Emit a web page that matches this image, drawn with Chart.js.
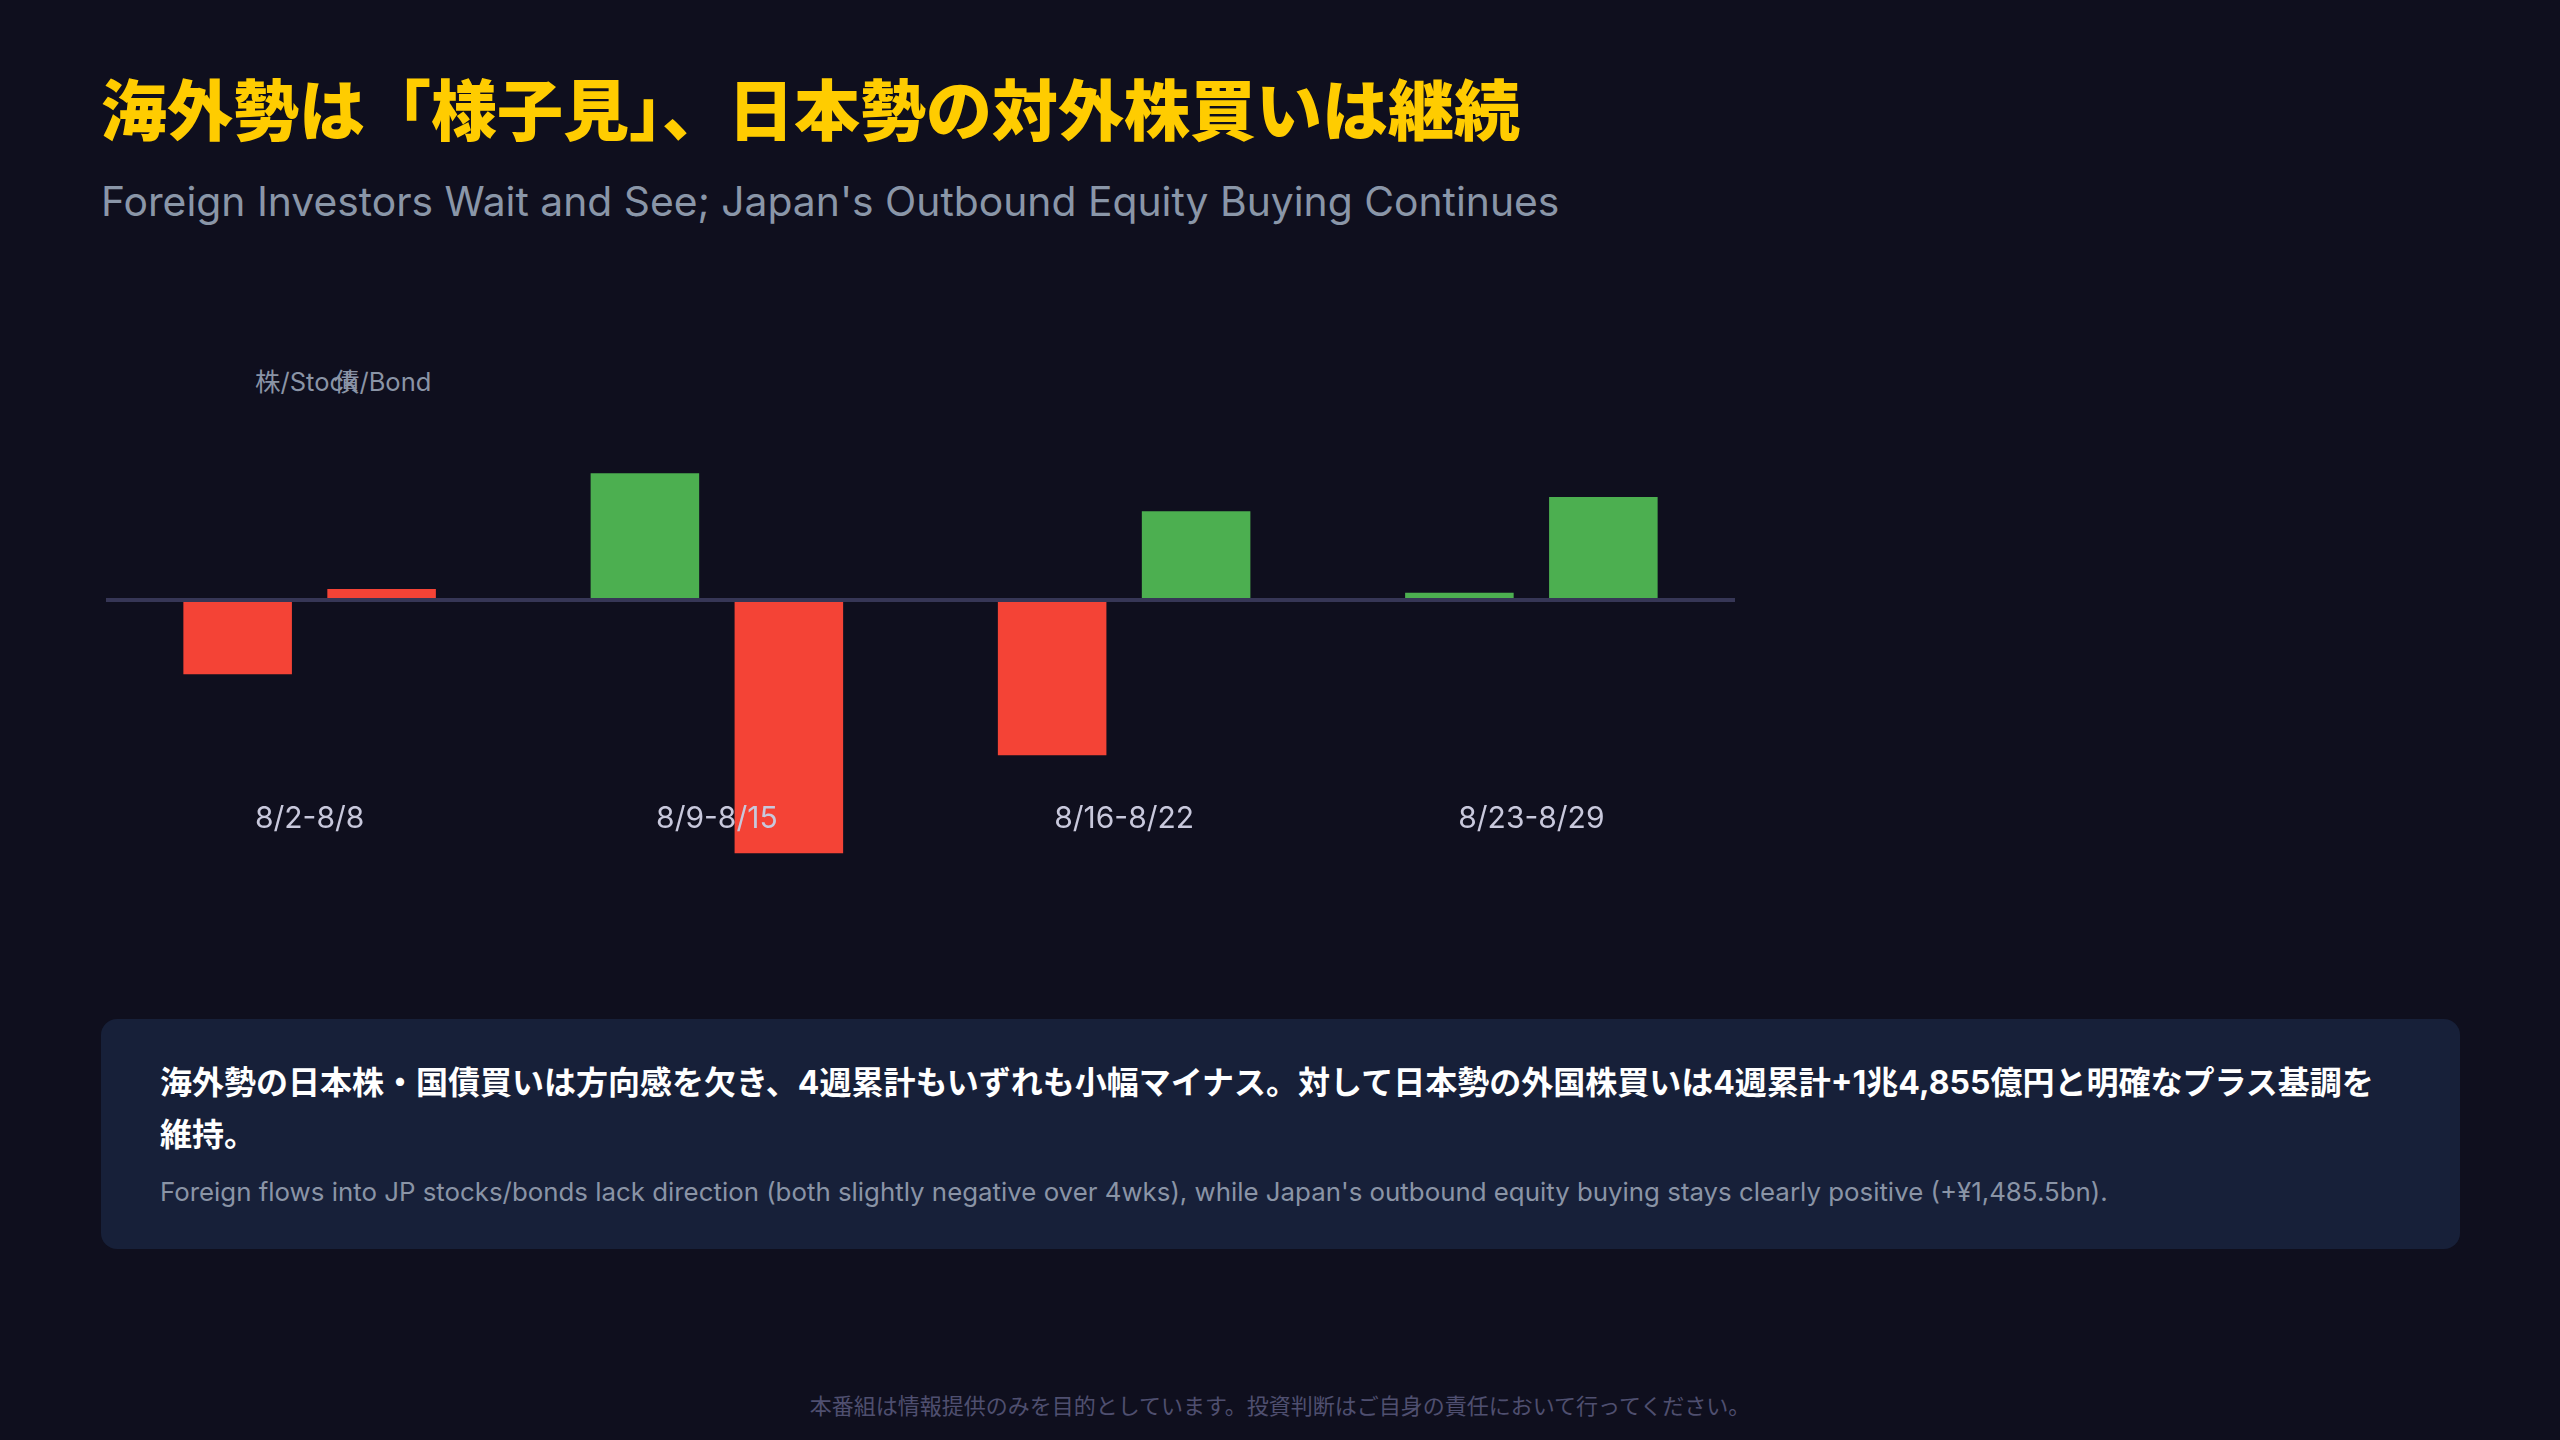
<!doctype html>
<html lang="ja">
  <head>
    <meta charset="utf-8">
    <title>海外勢は「様子見」、日本勢の対外株買いは継続</title>
    <style>
      * {
        margin: 0;
        padding: 0;
      }
      body {
        width: 2560px;
        height: 1440px;
        background: #0f0f1e;
        position: relative;
        overflow: hidden;
        font-family: Inter, "Noto Sans CJK JP", sans-serif;
      }
      .title {
        position: absolute;
        left: 101px;
        top: 67px;
        font-size: 66px;
        line-height: 1.2;
        font-weight: 900;
        color: #ffcc00;
        font-family: "Noto Sans CJK JP", sans-serif;
      }
      .subtitle {
        position: absolute;
        left: 101px;
        top: 177px;
        font-size: 40.8px;
        line-height: 1.2;
        color: #8a96a8;
      }
      .legendItem {
        position: absolute;
        top: 368px;
        font-size: 25.5px;
        line-height: 28px;
        color: #8a94a6;
      }
      .chartBox {
        position: absolute;
        left: 106px;
        top: 448px;
        width: 1629px;
        height: 450px;
      }
      .note {
        position: absolute;
        left: 101px;
        top: 1019px;
        width: 2359px;
        height: 230px;
        box-sizing: border-box;
        padding: 38px 59px 0 59px;
        background: #172039;
        border-radius: 16px;
      }
      .note .jp {
        font-size: 32px;
        line-height: 52px;
        font-weight: 700;
        color: #ffffff;
      }
      .note .en {
        margin-top: 13px;
        font-size: 25.85px;
        line-height: 35px;
        color: #8a94a6;
      }
      .footer {
        position: absolute;
        left: 0;
        width: 2560px;
        top: 1392px;
        text-align: center;
        font-size: 22px;
        line-height: 28px;
        color: #4f4f70;
      }
    </style>
  </head>
  <body>
    <div class="title">海外勢は「様子見」、日本勢の対外株買いは継続</div>
    <div class="subtitle">Foreign Investors Wait and See; Japan's Outbound Equity Buying Continues</div>

    <div class="legendItem" style="left: 255px;">株/Stock</div>
    <div class="legendItem" style="left: 334px;">債/Bond</div>

    <div class="chartBox">
      <canvas id="myChart"></canvas>
    </div>

    <div class="note">
      <div class="jp">海外勢の日本株・国債買いは方向感を欠き、4週累計もいずれも小幅マイナス。対して日本勢の外国株買いは4週累計+1兆4,855億円と明確なプラス基調を<br>維持。</div>
      <div class="en">Foreign flows into JP stocks/bonds lack direction (both slightly negative over 4wks), while Japan's outbound equity buying stays clearly positive (+¥1,485.5bn).</div>
    </div>

    <div class="footer">本番組は情報提供のみを目的としています。投資判断はご自身の責任において行ってください。</div>

    <script src="https://cdn.jsdelivr.net/npm/chart.js/dist/chart.umd.min.js"></script>
    <script>
    // data (億円)
    const weeks = ['8/2-8/8', '8/9-8/15', '8/16-8/22', '8/23-8/29'];
    const stockFlows = [-2930, 5000, -6130, 290];
    const bondFlows = [430, -10000, 3500, 4070];

    const RED = '#f44336';
    const GREEN = '#4caf50';
    const stockColors = [RED, GREEN, RED, GREEN];
    const bondColors = [RED, RED, GREEN, GREEN];

    const data = {
      labels: weeks,
      datasets: [{
        label: '株/Stock',
        data: stockFlows,
        backgroundColor: stockColors,
        borderWidth: 0,
        clip: false
      }, {
        label: '債/Bond',
        data: bondFlows,
        backgroundColor: bondColors,
        borderWidth: 0,
        clip: false
      }]
    };

    const config = {
      type: 'bar',
      data,
      options: {
        responsive: false,
        animation: false,
        maintainAspectRatio: false,
        layout: { padding: 0 },
        categoryPercentage: 0.707,
        barPercentage: 0.754,
        plugins: {
          legend: { display: false },
          tooltip: { enabled: false }
        },
        scales: {
          x: {
            grid: { display: false },
            border: { display: false },
            ticks: {
              z: 1, // labels go on top of the bars, like the original
              color: '#c8c8dc',
              padding: 3,
              maxRotation: 0,
              font: { family: 'Inter', size: 30 }
            },
            afterFit: (s) => { s.height = 108; }
          },
          y: {
            min: -7500,
            max: 6000,
            border: { display: false },
            grid: {
              drawTicks: false,
              lineWidth: 4,
              color: (c) => (c.tick && c.tick.value === 0) ? '#363656' : 'transparent'
            },
            ticks: { display: false, stepSize: 1500 },
            afterFit: (s) => { s.width = 0; }
          }
        }
      }
    };

    const ctx = document.getElementById('myChart');
    ctx.width = 1629;
    ctx.height = 450;
    const myChart = new Chart(ctx, config);
    </script>
  </body>
</html>
